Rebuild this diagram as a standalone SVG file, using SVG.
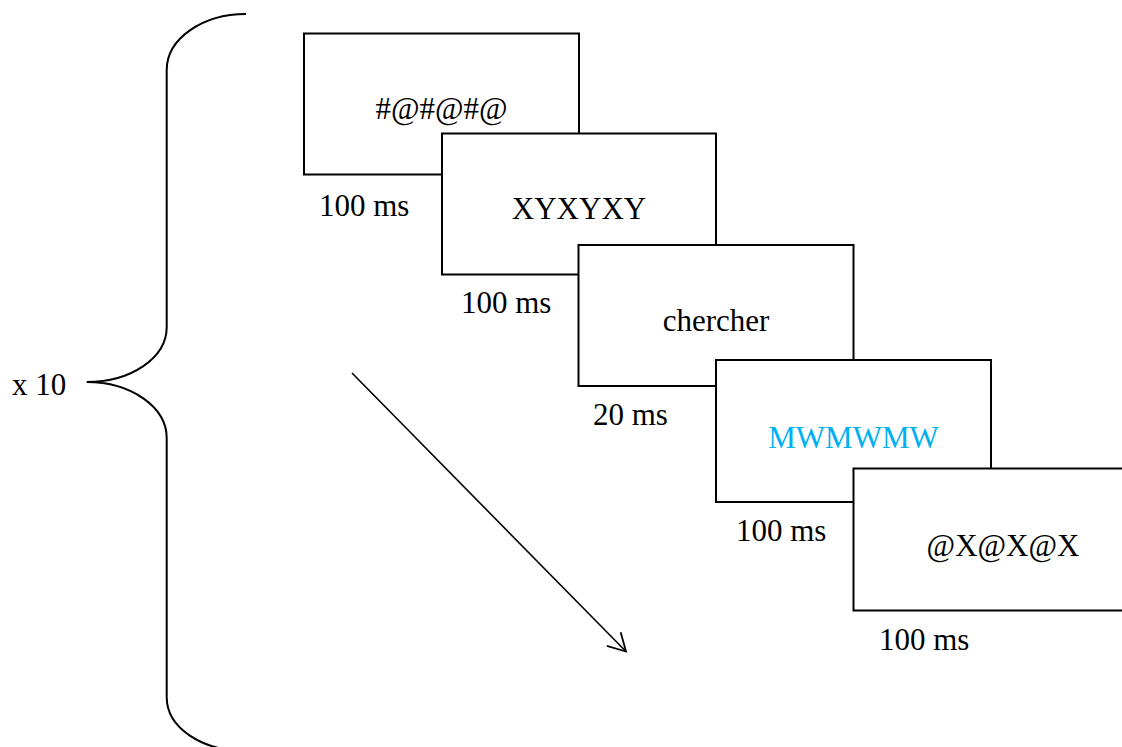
<svg xmlns="http://www.w3.org/2000/svg" width="1122" height="747" viewBox="0 0 1122 747">
  <style>
    .box { fill: #ffffff; stroke: #000000; stroke-width: 2; }
    .txt { font-family: "Liberation Serif", "Times New Roman", serif; font-size: 31px; fill: #000000; }
    .mid { text-anchor: middle; }
    .blue { fill: #00B0F0; }
    .line { fill: none; stroke: #000000; stroke-width: 1.6; }
    .brace { fill: none; stroke: #000000; stroke-width: 2; }
  </style>
  <defs>
    <marker id="arrow" markerUnits="userSpaceOnUse" viewBox="0 0 22 22" refX="20" refY="11" markerWidth="22" markerHeight="22" orient="auto">
      <path d="M2.5,1.3 L20,11 L2.5,20.7" fill="none" stroke="#000000" stroke-width="1.8"/>
    </marker>
  </defs>
  <rect width="1122" height="747" fill="#ffffff"/>

  <g id="repeat-brace">
    <path class="brace" d="M246,14 C202,14 166.7,39 166.7,70 L166.7,327 C166.7,358 131,382 86.7,382 C131,382 166.7,407 166.7,438 L166.7,697 C166.7,728 202,751 246,751"/>
    <text class="txt" x="12" y="395">x 10</text>
  </g>

  <g id="frame1">
    <rect class="box" x="304" y="33.5" width="275" height="141"/>
    <text class="txt mid" x="441.5" y="119">#@#@#@</text>
    <text class="txt" x="319" y="216">100 ms</text>
  </g>

  <g id="frame2">
    <rect class="box" x="442" y="133.5" width="274" height="141"/>
    <text class="txt mid" x="579" y="219">XYXYXY</text>
    <text class="txt" x="461" y="313">100 ms</text>
  </g>

  <g id="frame3">
    <rect class="box" x="578.5" y="245" width="275" height="141"/>
    <text class="txt mid" x="716" y="331">chercher</text>
    <text class="txt" x="593" y="425">20 ms</text>
  </g>

  <g id="frame4">
    <rect class="box" x="716" y="360" width="275" height="142"/>
    <text class="txt mid blue" x="853.5" y="448">MWMWMW</text>
    <text class="txt" x="736" y="541">100 ms</text>
  </g>

  <g id="frame5">
    <rect class="box" x="853.5" y="468.5" width="300" height="142"/>
    <text class="txt mid" x="1003" y="556">@X@X@X</text>
    <text class="txt" x="879" y="650">100 ms</text>
  </g>

  <g id="connectors">
    <line class="line" x1="352" y1="373" x2="626" y2="651.5" marker-end="url(#arrow)"/>
  </g>
</svg>
